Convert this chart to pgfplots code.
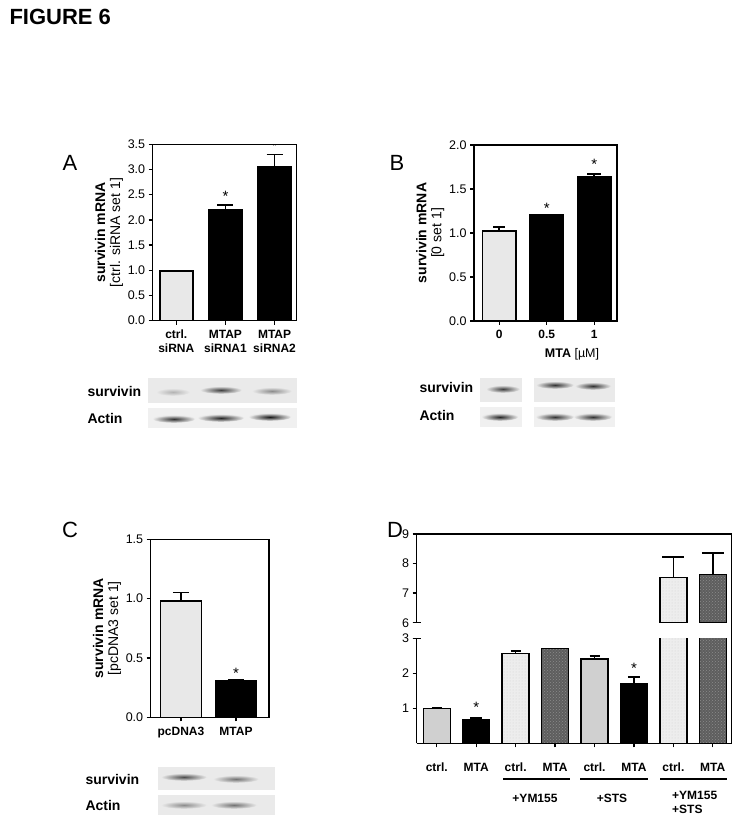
\documentclass[border=0pt]{standalone}
\usepackage{fontspec}
\setmainfont{Liberation Sans}
\usepackage{pgfplots}
\pgfplotsset{compat=1.18}
\usetikzlibrary{patterns}
\pgfplotsset{/pgf/number format/assume math mode=true}

\definecolor{barlight}{HTML}{E8E8E8}
\definecolor{barmid}{HTML}{D0D0D0}
\definecolor{barpale}{HTML}{EDEDED}
\definecolor{bardark}{HTML}{5E5E5E}
\definecolor{blotbg}{HTML}{EAEAEA}

\pgfplotsset{
  panel/.style={
    scale only axis, anchor=south west,
    axis line style={line width=1.5pt},
    tick style={black, line width=1.3pt},
    major tick length=4pt,
    tick align=outside, tick pos=left,
    ymin=0,
    tick label style={font=\fontsize{12.5}{14}\selectfont},
    xticklabel style={font=\fontsize{12}{14}\selectfont\bfseries, align=center, yshift=-2pt},
    yticklabel style={/pgf/number format/.cd, fixed, fixed zerofill, precision=1},
    ylabel style={align=center, font=\fontsize{14}{15}\selectfont, yshift=-2pt},
  },
  errbar/.style={
    ybar, bar shift=0pt, draw=black, line width=1.5pt,
    error bars/y dir=plus, error bars/y explicit,
    error bars/error bar style={line width=1.5pt, black},
    error bars/error mark options={rotate=90, mark size=#1, line width=1.5pt, black},
  },
}

\newcommand{\band}[4]{\shade[inner color=black!#4, outer color=blotbg] (#1,#2) ellipse (#3 and 3.8);}

\begin{document}
\begin{tikzpicture}
\path[use as bounding box] (0,0) rectangle (741pt,825pt);

% ---------- A ----------
\begin{axis}[panel, at={(152.7pt,504.3pt)}, width=144pt, height=176.4pt,
  xmin=-0.48, xmax=2.45, ymax=3.5, ytick={0,0.5,1,1.5,2,2.5,3,3.5},
  xtick={0,1,2}, xticklabels={ctrl.\\siRNA, MTAP\\siRNA1, MTAP\\siRNA2},
  bar width=0.67,
  ylabel={\textbf{survivin mRNA}\\{[ctrl. siRNA set 1]}}]
\addplot[errbar=6pt, fill=barlight] coordinates {(0,0.99) +- (0,0.01)};
\addplot[errbar=8pt, fill=black] coordinates {(1,2.20) +- (0,0.10) (2,3.05) +- (0,0.25)};
\node[font=\fontsize{15}{15}\selectfont] at (axis cs:1,2.47) {*};
\node[font=\fontsize{10}{10}\selectfont] at (axis cs:2,3.47) {*};
\end{axis}

% ---------- B ----------
\begin{axis}[panel, at={(474pt,504pt)}, width=143pt, height=176pt,
  xmin=-0.53, xmax=2.48, ymax=2, ytick={0,0.5,1,1.5,2},
  xtick={0,1,2}, xticklabels={0,0.5,1},
  bar width=0.7,
  ylabel={\textbf{survivin mRNA}\\{[0 set 1]}}]
\addplot[errbar=6pt, fill=barlight] coordinates {(0,1.02) +- (0,0.05)};
\addplot[errbar=7pt, fill=black] coordinates {(1,1.21) +- (0,0.0) (2,1.64) +- (0,0.03)};
\node[font=\fontsize{15}{15}\selectfont] at (axis cs:1,1.28) {*};
\node[font=\fontsize{15}{15}\selectfont] at (axis cs:2,1.78) {*};
\end{axis}

% ---------- C ----------
\begin{axis}[panel, at={(150.7pt,107.7pt)}, width=118.3pt, height=178pt,
  xmin=-0.55, xmax=1.6, ymax=1.5, ytick={0,0.5,1,1.5},
  xtick={0,1}, xticklabels={pcDNA3,MTAP},
  bar width=0.75,
  ylabel={\textbf{survivin mRNA}\\{[pcDNA3 set 1]}}]
\addplot[errbar=8pt, fill=barlight] coordinates {(0,0.98) +- (0,0.07)};
\addplot[errbar=8pt, fill=black] coordinates {(1,0.305) +- (0,0.01)};
\node[font=\fontsize{15}{15}\selectfont] at (axis cs:1,0.37) {*};
\end{axis}

% ---------- D lower ----------
\begin{axis}[panel, at={(416.7pt,81.7pt)}, width=315pt, height=105pt,
  axis x line*=bottom, axis y line*=left,
  xmin=-0.51, xmax=7.48, ymax=3, ytick={1,2,3},
  yticklabel style={/pgf/number format/precision=0},
  xtick={0,...,7}, xticklabels={ctrl.,MTA,ctrl.,MTA,ctrl.,MTA,ctrl.,MTA},
  xticklabel style={font=\fontsize{12}{14}\selectfont\bfseries, yshift=-10pt},
  bar width=0.685]
\addplot[errbar=5pt, fill=barmid] coordinates {(0,1.0) +- (0,0.03) (4,2.41) +- (0,0.09)};
\addplot[errbar=6pt, fill=black] coordinates {(1,0.686) +- (0,0.04) (5,1.70) +- (0,0.20)};
\addplot[errbar=5pt, fill=barpale, postaction={pattern=dots, pattern color=black!18}] coordinates {(2,2.57) +- (0,0.07) (6,7.53) +- (0,0.69)};
\addplot[errbar=5pt, fill=bardark, postaction={pattern=crosshatch dots, pattern color=black!45}] coordinates {(3,2.71) +- (0,0.0) (7,7.63) +- (0,0.73)};
\node[font=\fontsize{15}{15}\selectfont] at (axis cs:1,1.03) {*};
\node[font=\fontsize{15}{15}\selectfont] at (axis cs:5,2.13) {*};
\end{axis}

% ---------- D upper ----------
\begin{axis}[panel, at={(416.7pt,202.3pt)}, width=315pt, height=88.7pt,
  axis x line=none, axis y line*=left, xtick=\empty,
  xmin=-0.51, xmax=7.48, ymin=6, ymax=9, ytick={6,7,8,9},
  yticklabel style={/pgf/number format/precision=0},
  bar width=0.685]
\addplot[errbar=11pt, fill=barpale, postaction={pattern=dots, pattern color=black!18}] coordinates {(6,7.53) +- (0,0.69)};
\addplot[errbar=11pt, fill=bardark, postaction={pattern=crosshatch dots, pattern color=black!45}] coordinates {(7,7.63) +- (0,0.73)};
\end{axis}

% ---------- decorations (pixel coordinates, y down) ----------
\begin{scope}[x=1pt, y=-1pt, shift={(0pt,825pt)}]
\draw[line width=1.5pt, line cap=rect] (416.7,622.7) -- (416.7,534) -- (731.7,534) -- (731.7,743.3);
\draw[line width=1.3pt] (412.7,622.7) -- (421.2,622.7);
\draw[line width=1.3pt] (412.7,638.3) -- (421.2,638.3);

\node[anchor=west, font=\fontsize{22}{22}\selectfont\bfseries] at (6,17) {FIGURE 6};
\node[font=\fontsize{22}{22}\selectfont] at (70,163) {A};
\node[font=\fontsize{22}{22}\selectfont] at (397,163) {B};
\node[font=\fontsize{22}{22}\selectfont] at (70,530) {C};
\node[font=\fontsize{22}{22}\selectfont] at (395,530) {D};

\node[font=\fontsize{12.5}{14}\selectfont] at (572,354) {\textbf{MTA} [µM]};

% D group annotations
\begin{scope}[line width=1.5pt]
\draw (503,779) -- (570,779);
\draw (580,779) -- (648,779);
\draw (660,779) -- (727,779);
\end{scope}
\node[font=\fontsize{12}{14}\selectfont\bfseries] at (535,798) {+YM155};
\node[font=\fontsize{12}{14}\selectfont\bfseries] at (612,798) {+STS};
\node[anchor=north west, align=left, inner sep=0pt, font=\fontsize{12}{14}\selectfont\bfseries] at (672,791) {+YM155\\+STS};

% blots A
\fill[blotbg] (148,378) rectangle (297,403);
\fill[blotbg!70!white] (148,408) rectangle (297,428);
\band{173}{392}{17}{30}
\band{221}{390}{21}{75}
\band{272}{391}{20}{45}
\band{174}{419}{21}{80}
\band{221}{418}{23}{85}
\band{270}{417}{21}{90}
\node[anchor=west, font=\fontsize{14}{16}\selectfont\bfseries] at (84,392) {survivin};
\node[anchor=west, font=\fontsize{14}{16}\selectfont\bfseries] at (84,418) {Actin};

% blots B
\fill[blotbg] (480,378) rectangle (522,402);
\fill[blotbg] (534,378) rectangle (615,402);
\fill[blotbg!70!white] (480,407) rectangle (522,427);
\fill[blotbg!70!white] (534,407) rectangle (615,427);
\band{503}{389}{17}{75}
\band{555}{385}{19}{80}
\band{593}{386}{18}{80}
\band{500}{417}{18}{85}
\band{555}{417}{19}{80}
\band{593}{417}{19}{80}
\node[anchor=west, font=\fontsize{14}{16}\selectfont\bfseries] at (416,388) {survivin};
\node[anchor=west, font=\fontsize{14}{16}\selectfont\bfseries] at (416,416) {Actin};

% blots C
\fill[blotbg] (158,767) rectangle (275,790);
\fill[blotbg] (158,795) rectangle (275,815);
\band{184}{777}{23}{70}
\band{236}{779}{23}{55}
\band{184}{805}{23}{45}
\band{234}{805}{23}{55}
\node[anchor=west, font=\fontsize{14}{16}\selectfont\bfseries] at (82,779) {survivin};
\node[anchor=west, font=\fontsize{14}{16}\selectfont\bfseries] at (82,805) {Actin};
\end{scope}
\end{tikzpicture}
\end{document}
